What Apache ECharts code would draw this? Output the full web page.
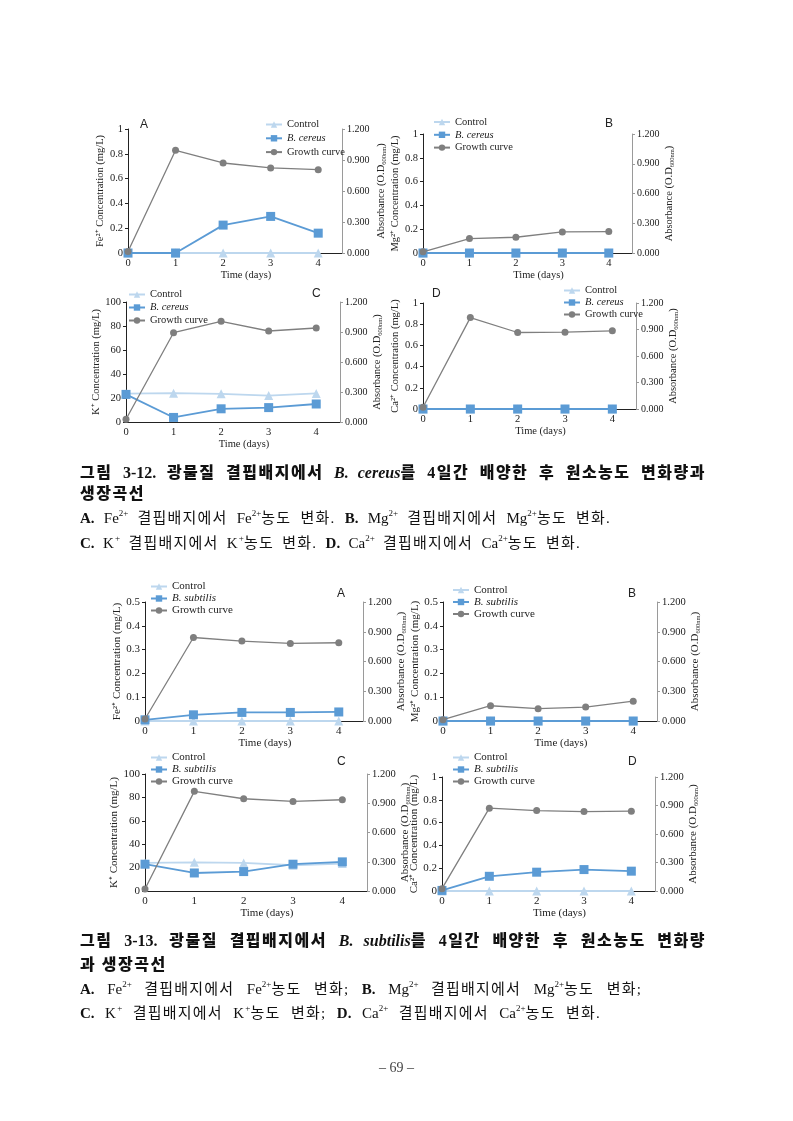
<!DOCTYPE html>
<html><head><meta charset="utf-8">
<script src="https://cdn.jsdelivr.net/npm/echarts@6/dist/echarts.min.js"></script>
<style>
html,body{margin:0;padding:0;background:#fff;}
#page{position:relative;width:793px;height:1121px;overflow:hidden;}
#chart{position:absolute;left:0;top:0;width:793px;height:1121px;}
.cap{position:absolute;left:80px;font-size:15px;line-height:20px;color:#111;font-family:"Liberation Serif","Noto Sans CJK KR",serif;white-space:nowrap;letter-spacing:1.2px;}
.t{font-family:"Liberation Serif","Noto Sans CJK KR",serif;font-weight:900;font-size:16px;letter-spacing:1.5px;}
.j{white-space:normal;text-align:justify;text-align-last:justify;overflow:visible;height:20px;}
.cap sup{font-size:9px;line-height:0;position:relative;top:-1px;letter-spacing:0;}
.cap b,.cap i,.l{letter-spacing:0;}
.cap b{font-weight:bold;}
#pg{position:absolute;left:0;width:793px;text-align:center;top:1060px;font-family:"Liberation Serif",serif;font-size:14px;color:#444;}
</style></head>
<body><div id="page">
<div id="chart"></div>
<div class="cap t j" style="top:463px;width:626px;">그림 <span class="l">3-12.</span> 광물질 결핍배지에서 <i>B. cereus</i>를 4일간 배양한 후 원소농도 변화량과</div>
<div class="cap t" style="top:484px;">생장곡선</div>
<div class="cap j" style="top:508px;width:531px;"><b>A.</b> <span class="l">Fe</span><sup>2+</sup> 결핍배지에서 <span class="l">Fe</span><sup>2+</sup>농도 변화. <b>B.</b> <span class="l">Mg</span><sup>2+</sup> 결핍배지에서 <span class="l">Mg</span><sup>2+</sup>농도 변화.</div>
<div class="cap j" style="top:533px;width:501px;"><b>C.</b> K<sup>+</sup> 결핍배지에서 K<sup>+</sup>농도 변화. <b>D.</b> <span class="l">Ca</span><sup>2+</sup> 결핍배지에서 <span class="l">Ca</span><sup>2+</sup>농도 변화.</div>
<div class="cap t j" style="top:931px;width:626px;">그림 <span class="l">3-13.</span> 광물질 결핍배지에서 <i>B. subtilis</i>를 4일간 배양한 후 원소농도 변화량</div>
<div class="cap t" style="top:955px;">과 생장곡선</div>
<div class="cap j" style="top:979px;width:562px;"><b>A.</b> <span class="l">Fe</span><sup>2+</sup> 결핍배지에서 <span class="l">Fe</span><sup>2+</sup>농도 변화; <b>B.</b> <span class="l">Mg</span><sup>2+</sup> 결핍배지에서 <span class="l">Mg</span><sup>2+</sup>농도 변화;</div>
<div class="cap j" style="top:1003px;width:521px;"><b>C.</b> K<sup>+</sup> 결핍배지에서 K<sup>+</sup>농도 변화; <b>D.</b> <span class="l">Ca</span><sup>2+</sup> 결핍배지에서 <span class="l">Ca</span><sup>2+</sup>농도 변화.</div>
<div id="pg">– 69 –</div>
</div>
<script>
// ---- data ----
const days = [0, 1, 2, 3, 4];
// Figure 3-12: B. cereus
const ceFeControl = [0, 0, 0, 0, 0];
const ceFe = [0, 0, 0.225, 0.295, 0.16];
const ceFeGrowth = [0.015, 0.994, 0.871, 0.823, 0.806];
const ceMgControl = [0, 0, 0, 0, 0];
const ceMg = [0, 0, 0, 0, 0];
const ceMgGrowth = [0.012, 0.145, 0.159, 0.213, 0.216];
const ceKControl = [23.6, 24, 23.5, 22, 23.8];
const ceK = [23, 3.8, 11, 12, 15];
const ceKGrowth = [0.028, 0.893, 1.007, 0.91, 0.94];
const ceCaControl = [0, 0, 0, 0, 0];
const ceCa = [0, 0, 0, 0, 0];
const ceCaGrowth = [0.019, 1.035, 0.866, 0.87, 0.885];
// Figure 3-13: B. subtilis
const suFeControl = [0, 0, 0, 0, 0];
const suFe = [0.005, 0.026, 0.036, 0.036, 0.038];
const suFeGrowth = [0.02, 0.842, 0.806, 0.782, 0.789];
const suMgControl = [0, 0, 0, 0, 0];
const suMg = [0, 0, 0, 0, 0];
const suMgGrowth = [0.013, 0.154, 0.124, 0.14, 0.2];
const suKControl = [24, 24.5, 24, 22, 23.5];
const suK = [22.9, 15.4, 16.6, 22.9, 24.9];
const suKGrowth = [0.02, 1.022, 0.946, 0.919, 0.936];
const suCaControl = [0, 0, 0, 0, 0];
const suCa = [0.005, 0.129, 0.165, 0.188, 0.174];
const suCaGrowth = [0.025, 0.872, 0.847, 0.836, 0.84];
// axis ranges / tick steps
const concMax = [1, 1, 100, 1, 0.5, 0.5, 100, 1];
const concStep = [0.2, 0.2, 20, 0.2, 0.1, 0.1, 20, 0.2];
const absMax = 1.2, absStep = 0.3;
const yNames = ['Fe²⁺ Concentration (mg/L)', 'Mg²⁺ Concentration (mg/L)', 'K⁺ Concentration (mg/L)', 'Ca²⁺ Concentration (mg/L)',
                'Fe²⁺ Concentration (mg/L)', 'Mg²⁺ Concentration (mg/L)', 'K⁺ Concentration (mg/L)', 'Ca²⁺ Concentration (mg/L)'];
const letters = ['A', 'B', 'C', 'D', 'A', 'B', 'C', 'D'];
const species = ['B. cereus', 'B. cereus', 'B. cereus', 'B. cereus', 'B. subtilis', 'B. subtilis', 'B. subtilis', 'B. subtilis'];
const controlData = [ceFeControl, ceMgControl, ceKControl, ceCaControl, suFeControl, suMgControl, suKControl, suCaControl];
const speciesData = [ceFe, ceMg, ceK, ceCa, suFe, suMg, suK, suCa];
const growthData = [ceFeGrowth, ceMgGrowth, ceKGrowth, ceCaGrowth, suFeGrowth, suMgGrowth, suKGrowth, suCaGrowth];

// ---- layout ----
const layout = [
  {g:[128,129,342,253], L:[145,126], lg:[265,118.5,1.8], lGap:22, rGap:33, fs:10.5},
  {g:[423,134,632,253], L:[610,125], lg:[433,116,0.8], lGap:17.5, rGap:31, fs:10.5},
  {g:[126,302,340,422], L:[317,295], lg:[128,288.5,1], lGap:17.5, rGap:31, fs:10.5},
  {g:[423,303,636,409], L:[437,295], lg:[563,284.5,0], lGap:17.5, rGap:31, fs:10.5},
  {g:[145,602,363,721], L:[342,595], lg:[150,580.5,0], lGap:20, rGap:29, fs:11},
  {g:[443,602,657,721], L:[633,595], lg:[452,584,0], lGap:20.5, rGap:30, fs:11},
  {g:[145,774,367,891], L:[342,763], lg:[150,751.5,0], lGap:20, rGap:24, fs:11},
  {g:[442,777,655,891], L:[633,763], lg:[452,751.5,0], lGap:19.5, rGap:30, fs:11}
];
const SERIF = '"Liberation Serif","Times New Roman",serif';
const C_CTRL = '#BDD7EE', C_SP = '#5B9BD5', C_GR = '#7F7F7F', C_TXT = '#222';

const grids = [], xAxes = [], yAxes = [], series = [], legends = [], graphics = [];
layout.forEach((p, i) => {
  const fs = p.fs;
  grids.push({left: p.g[0], top: p.g[1], width: p.g[2] - p.g[0], height: p.g[3] - p.g[1]});
  xAxes.push({
    type: 'value', gridIndex: i, min: 0, max: 4.5, interval: 1,
    name: 'Time (days)', nameLocation: 'middle', nameGap: 16,
    nameTextStyle: {fontFamily: SERIF, fontSize: fs, color: C_TXT, padding: [0, 0, 0, 22]},
    axisLine: {show: true, lineStyle: {color: '#222', width: 1}},
    axisTick: {show: false}, splitLine: {show: false},
    axisLabel: {formatter: v => Number.isInteger(v) ? String(v) : '', fontFamily: SERIF, fontSize: fs, color: C_TXT, margin: 5}
  });
  yAxes.push({
    type: 'value', gridIndex: i, position: 'left', min: 0, max: concMax[i], interval: concStep[i],
    name: yNames[i], nameLocation: 'middle', nameGap: p.lGap,
    nameTextStyle: {fontFamily: SERIF, fontSize: fs, color: C_TXT},
    axisLine: {show: true, lineStyle: {color: '#222', width: 1}},
    axisTick: {show: true, length: 3, lineStyle: {color: '#222'}}, splitLine: {show: false},
    axisLabel: {fontFamily: SERIF, fontSize: fs, color: C_TXT, margin: 5}
  });
  yAxes.push({
    type: 'value', gridIndex: i, position: 'right', min: 0, max: absMax, interval: absStep,
    name: '{a|Absorbance (O.D}{s|600nm}{a|)}', nameLocation: 'middle', nameGap: p.rGap,
    nameTextStyle: {rich: {a: {fontFamily: SERIF, fontSize: fs, color: C_TXT, lineHeight: 13}, s: {fontFamily: SERIF, fontSize: 6.5, color: C_TXT, verticalAlign: 'bottom', lineHeight: 9}}},
    axisLine: {show: true, lineStyle: {color: '#9a9a9a', width: 1}},
    axisTick: {show: true, length: 3, lineStyle: {color: '#9a9a9a'}}, splitLine: {show: false},
    axisLabel: {formatter: v => v.toFixed(3), fontFamily: SERIF, fontSize: fs - 0.5, color: C_TXT, margin: 5}
  });
  const pts = arr => days.map((d, k) => [d, arr[k]]);
  series.push({name: 'Control', type: 'line', xAxisIndex: i, yAxisIndex: 2 * i, data: pts(controlData[i]),
    symbol: 'triangle', symbolSize: 9, itemStyle: {color: C_CTRL}, lineStyle: {color: C_CTRL, width: 1.8}, z: 2});
  series.push({name: species[i], type: 'line', xAxisIndex: i, yAxisIndex: 2 * i, data: pts(speciesData[i]),
    symbol: 'rect', symbolSize: 9, itemStyle: {color: C_SP}, lineStyle: {color: C_SP, width: 1.8}, z: 3});
  series.push({name: 'Growth curve', type: 'line', xAxisIndex: i, yAxisIndex: 2 * i + 1, data: pts(growthData[i]),
    symbol: 'circle', symbolSize: 7, itemStyle: {color: C_GR}, lineStyle: {color: C_GR, width: 1.3}, z: 4});
  legends.push({
    orient: 'vertical', left: p.lg[0], top: p.lg[1], itemGap: p.lg[2], itemWidth: 16, itemHeight: 8, padding: 0,
    data: ['Control', species[i], 'Growth curve'], selectedMode: false,
    formatter: n => n.startsWith('B.') ? '{i|' + n + '}' : n,
    textStyle: {fontFamily: SERIF, fontSize: fs, color: C_TXT, lineHeight: 12,
      rich: {i: {fontFamily: SERIF, fontSize: fs, fontStyle: 'italic', color: C_TXT, lineHeight: 12}}}
  });
  graphics.push({type: 'text', left: p.L[0] - 5, top: p.L[1] - 7,
    style: {text: letters[i], fontFamily: '"Liberation Sans",Arial,sans-serif', fontSize: 12, fill: C_TXT}});
});

const chart = echarts.init(document.getElementById('chart'), null, {renderer: 'canvas'});
chart.setOption({
  backgroundColor: '#fff', animation: false,
  grid: grids, xAxis: xAxes, yAxis: yAxes, series: series, legend: legends, graphic: graphics
});
</script>
</body></html>
